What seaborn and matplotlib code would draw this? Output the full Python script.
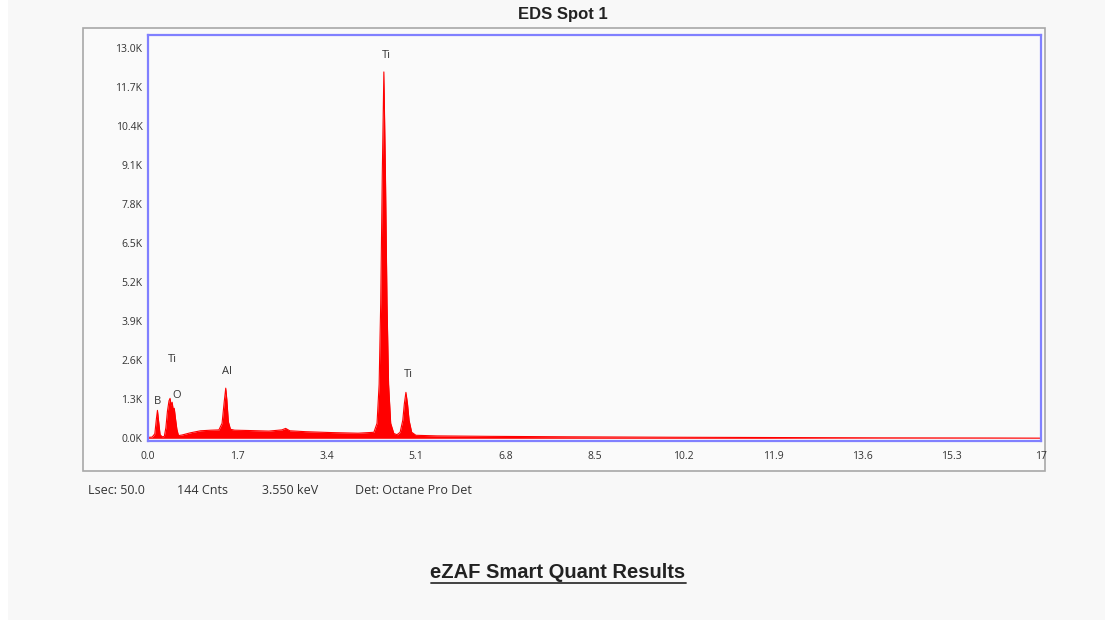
import matplotlib
matplotlib.use("Agg")
import matplotlib.pyplot as plt
import matplotlib.patches as mpatches
import seaborn as sns
import pandas as pd

# EDS spectrum: energy channel (keV) and counts
energy_kev = [0.00, 0.08, 0.13, 0.16, 0.18, 0.20, 0.23, 0.27, 0.31, 0.34,
              0.37, 0.40, 0.42, 0.44, 0.46, 0.48, 0.50, 0.52, 0.55, 0.58,
              0.65, 0.80, 1.00, 1.20, 1.35, 1.41, 1.45, 1.48, 1.50, 1.53,
              1.57, 1.65, 1.90, 2.30, 2.55, 2.62, 2.70, 3.00, 3.50, 4.00,
              4.30, 4.36, 4.40, 4.43, 4.46, 4.49, 4.52, 4.55, 4.58, 4.62,
              4.68, 4.74, 4.80, 4.85, 4.88, 4.91, 4.94, 4.97, 5.02, 5.10,
              5.50, 6.50, 8.00, 10.0, 12.0, 14.0, 16.0, 17.0]
counts = [30, 40, 150, 650, 930, 600, 120, 50, 60, 350,
          900, 1250, 1330, 1100, 1200, 950, 1000, 700, 300, 90,
          110, 180, 250, 270, 280, 500, 1200, 1670, 1300, 550,
          300, 270, 260, 240, 280, 330, 250, 220, 190, 170,
          200, 500, 1800, 4500, 8800, 12200, 8800, 4500, 1800, 500,
          160, 120, 200, 600, 1150, 1530, 1150, 600, 200, 100,
          80, 65, 50, 35, 25, 15, 10, 5]

# Element line labels
label_text = ["B", "Ti", "O", "Al", "Ti", "Ti"]
label_energy = [0.19, 0.46, 0.55, 1.50, 4.53, 4.95]
label_counts = [1050, 2450, 1250, 2050, 12550, 1950]

x_ticks = [0.0, 1.7, 3.4, 5.1, 6.8, 8.5, 10.2, 11.9, 13.6, 15.3, 17.0]
x_tick_labels = ["0.0", "1.7", "3.4", "5.1", "6.8", "8.5", "10.2", "11.9",
                 "13.6", "15.3", "17"]
y_ticks = [0, 1300, 2600, 3900, 5200, 6500, 7800, 9100, 10400, 11700, 13000]
y_tick_labels = ["0.0K", "1.3K", "2.6K", "3.9K", "5.2K", "6.5K", "7.8K",
                 "9.1K", "10.4K", "11.7K", "13.0K"]

footer = [("Lsec: 50.0", 88), ("144 Cnts", 177), ("3.550 keV", 262),
          ("Det: Octane Pro Det", 355)]

sns.set_theme(style="white")
plt.rcParams["font.family"] = ["Open Sans", "DejaVu Sans"]

W, H = 1105, 620
fig = plt.figure(figsize=(W / 100, H / 100), dpi=100)
fig.patch.set_facecolor("#f8f8f8")

# thin white strip at the left edge
fig.patches.append(mpatches.Rectangle((0, 0), 8 / W, 1, transform=fig.transFigure,
                                      facecolor="white", edgecolor="none", zorder=-5))
# outer gray frame of the chart panel
fig.patches.append(mpatches.Rectangle((83 / W, 1 - 471 / H), (1045 - 83) / W, (471 - 28) / H,
                                      transform=fig.transFigure, facecolor="#fafafa",
                                      edgecolor="#a8a8a8", linewidth=1.2, zorder=-5))

ax = fig.add_axes([148 / W, 1 - 441 / H, (1041 - 148) / W, (441 - 35) / H])
ax.set_zorder(2)
ax.set_facecolor("#fafafa")

df = pd.DataFrame({"energy": energy_kev, "counts": counts})
sns.lineplot(data=df, x="energy", y="counts", ax=ax, color="#ff0000",
             linewidth=0.8, estimator=None, sort=False)
ax.fill_between(df["energy"], 0, df["counts"], color="#ff0000", linewidth=0)

for t, e, c in zip(label_text, label_energy, label_counts):
    ax.text(e, c, t, fontsize=8, color="#333333", ha="center", va="bottom")

ax.set_xlim(0, 17)
ax.set_ylim(-90, 13430)
ax.set_xticks(x_ticks)
ax.set_xticklabels(x_tick_labels)
ax.set_yticks(y_ticks)
ax.set_yticklabels(y_tick_labels)
ax.set_xlabel("")
ax.set_ylabel("")
ax.tick_params(axis="both", which="both", labelsize=7.5, colors="#333333",
               length=3, width=0.6, direction="out", pad=1)
ax.tick_params(axis="x", pad=4)
for sp in ax.spines.values():
    sp.set_visible(True)
    sp.set_color("#8080ff")
    sp.set_linewidth(1.6)

fig.text(563 / W, 1 - 14 / H, "EDS Spot 1", fontsize=12, fontweight="bold",
         family="Liberation Sans", ha="center", va="center", color="#222222")

for t, xp in footer:
    fig.text(xp / W, 1 - 491 / H, t, fontsize=9, ha="left", va="center",
             color="#333333")

fig.text(558 / W, 1 - 573 / H, "eZAF Smart Quant Results", fontsize=14.5,
         fontweight="bold", family="Liberation Sans", ha="center", va="center",
         color="#222222")
fig.lines.append(plt.Line2D([431 / W, 686 / W], [1 - 583 / H, 1 - 583 / H],
                            transform=fig.transFigure, color="#333333", linewidth=1.3))

fig.savefig("out.png", dpi=100, facecolor=fig.get_facecolor())
